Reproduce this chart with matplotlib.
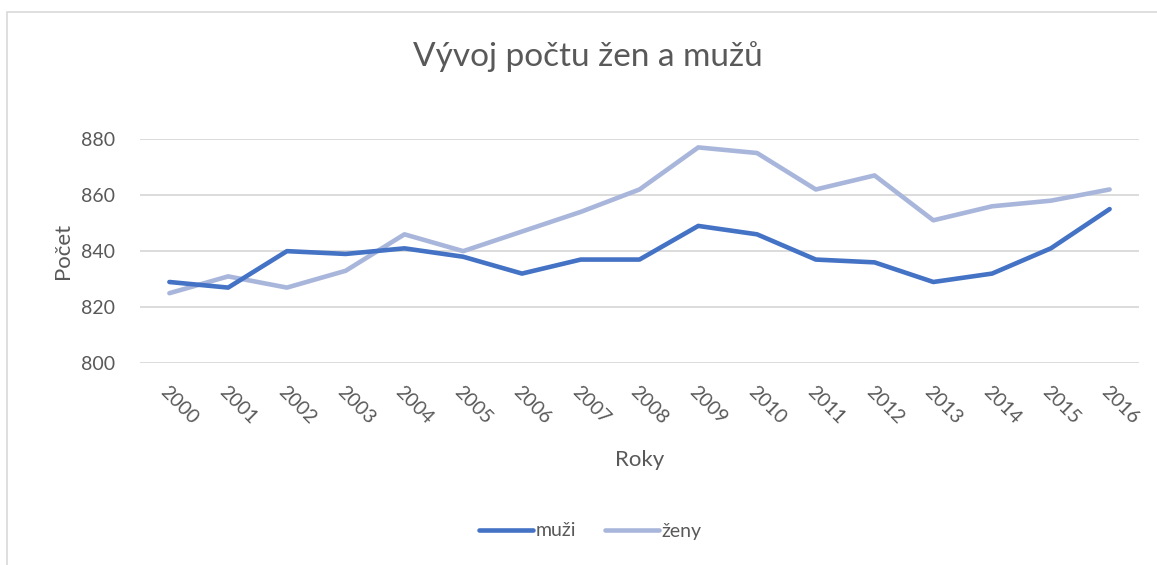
import numpy as np
import matplotlib.pyplot as plt
from matplotlib.patches import Rectangle

plt.rcParams['font.family'] = ['Lato', 'DejaVu Sans']

years = ['2000', '2001', '2002', '2003', '2004', '2005', '2006', '2007', '2008',
         '2009', '2010', '2011', '2012', '2013', '2014', '2015', '2016']
muzi = [829, 827, 840, 839, 841, 838, 832, 837, 837,
        849, 846, 837, 836, 829, 832, 841, 855]
zeny = [825, 831, 827, 833, 846, 840, 847, 854, 862,
        877, 875, 862, 867, 851, 856, 858, 862]

text_col = '#595959'
grid_col = '#d9d9d9'


def main():
    fig = plt.figure(figsize=(11.57, 5.65), dpi=100)

    # chart frame (cut off on right and bottom, as in the screenshot)
    fig.patches.append(Rectangle((7 / 1157, -0.1), 1.2, 1.1 - 12 / 565,
                                 transform=fig.transFigure, fill=False,
                                 edgecolor=grid_col, linewidth=1.2))

    ax = fig.add_axes([140 / 1157, (565 - 363.3) / 565, 999 / 1157, 224.3 / 565])
    x = np.arange(len(years))
    ax.plot(x, muzi, color='#4472c4', linewidth=3.3, label='muži',
            solid_capstyle='round', solid_joinstyle='round', zorder=3)
    ax.plot(x, zeny, color='#a9b6db', linewidth=3.3, label='ženy',
            solid_capstyle='round', solid_joinstyle='round', zorder=2)

    ax.set_xlim(-0.5, len(years) - 0.5)
    ax.set_ylim(800, 880)
    ax.set_yticks(range(800, 881, 20))
    ax.yaxis.grid(True, color=grid_col, linewidth=1.3)
    ax.set_axisbelow(True)
    for s in ax.spines.values():
        s.set_visible(False)
    ax.tick_params(length=0, labelsize=14, labelcolor=text_col)
    ax.tick_params(axis='y', pad=18)

    ax.set_xticks(x)
    ax.set_xticklabels(years, rotation=-45, ha='left', va='top',
                       rotation_mode='anchor')
    ax.tick_params(axis='x', pad=14)

    ax.set_xlabel('Roky', fontsize=16, color=text_col, labelpad=17)
    ax.set_ylabel('Počet', fontsize=16, color=text_col, labelpad=6)
    # title is centred on the whole chart, not on the plot area
    fig.text(588 / 1157, 1 - 57 / 565, 'Vývoj počtu žen a mužů', fontsize=24,
             color=text_col, ha='center', va='center')

    ax.legend(loc='center', bbox_to_anchor=(590 / 1157, 1 - 531 / 565),
              bbox_transform=fig.transFigure, ncol=2, frameon=False,
              fontsize=14, labelcolor=text_col, handlelength=2.8,
              handletextpad=0.1, columnspacing=1.5)

    fig.savefig('out.png', dpi=100)


if __name__ == "__main__":
    main()
